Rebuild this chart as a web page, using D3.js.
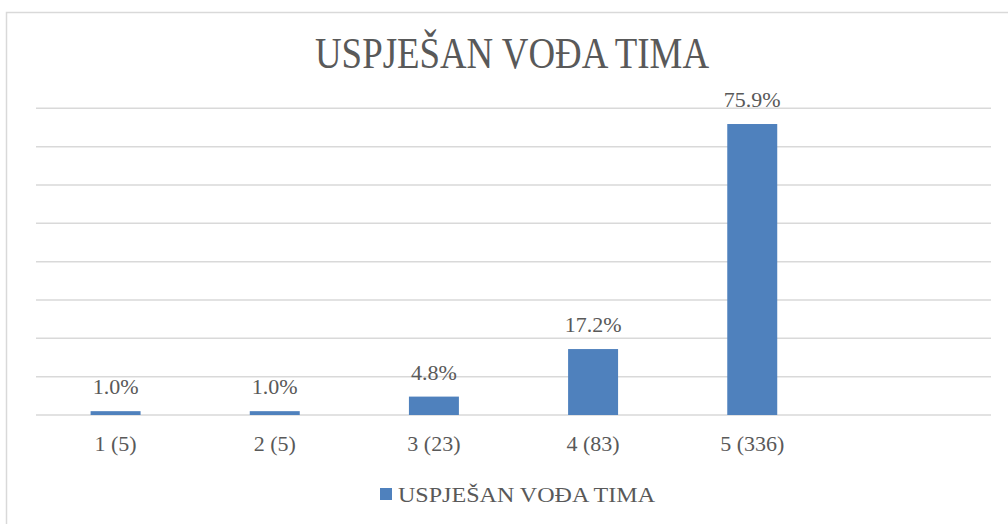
<!DOCTYPE html>
<html>
<head>
<meta charset="utf-8">
<script src="https://cdn.jsdelivr.net/npm/d3@7"></script>
<style>
  body { margin: 0; background: #fff; }
  text { font-family: "Liberation Serif", "Times New Roman", serif; fill: #595959; }
</style>
</head>
<body>
<div id="chart"></div>
<script>
// data
var categories = ['1 (5)', '2 (5)', '3 (23)', '4 (83)', '5 (336)', ''];
var values = [1.0, 1.0, 4.8, 17.2, 75.9];
var yTicks = [0, 10, 20, 30, 40, 50, 60, 70, 80];
var seriesName = 'USPJEŠAN VOĐA TIMA';
var chartTitle = 'USPJEŠAN VOĐA TIMA';

var W = 1008, H = 524;
// plot area (window.top is taken, so own names here)
var plotLeft = 36, plotRight = 991, plotTop = 108.3, plotBottom = 415;

var svg = d3.select('#chart')
  .append('svg')
  .attr('width', W)
  .attr('height', H);

// chart border, runs off the right and bottom of the frame
svg.append('rect')
  .attr('x', 6.5).attr('y', 12.5)
  .attr('width', 1010).attr('height', 530)
  .attr('fill', 'none')
  .attr('stroke', '#d9d9d9')
  .attr('stroke-width', 1.5);

var x = d3.scaleBand()
  .domain(d3.range(categories.length))
  .range([plotLeft, plotRight])
  .paddingInner(0.686)
  .paddingOuter(0.343);

var y = d3.scaleLinear()
  .domain([0, 80])
  .range([plotBottom, plotTop]);

// gridlines
svg.append('g')
  .selectAll('line')
  .data(yTicks)
  .enter().append('line')
  .attr('x1', plotLeft).attr('x2', plotRight)
  .attr('y1', (d) => y(d)).attr('y2', (d) => y(d))
  .attr('stroke', '#d9d9d9')
  .attr('stroke-width', 1.5);

// bars
svg.append('g')
  .selectAll('rect')
  .data(values)
  .enter().append('rect')
  .attr('x', (d, i) => x(i))
  .attr('y', (d) => y(d))
  .attr('width', x.bandwidth())
  .attr('height', (d) => y(0) - y(d))
  .attr('fill', '#4f81bd');

// value labels
svg.append('g')
  .selectAll('text')
  .data(values)
  .enter().append('text')
  .attr('x', (d, i) => x(i) + x.bandwidth() / 2)
  .attr('y', (d) => y(d) - 17)
  .attr('text-anchor', 'middle')
  .attr('font-size', 22)
  .text((d) => d.toFixed(1) + '%');

// category labels
svg.append('g')
  .selectAll('text')
  .data(categories)
  .enter().append('text')
  .attr('x', (d, i) => x(i) + x.bandwidth() / 2)
  .attr('y', 451)
  .attr('text-anchor', 'middle')
  .attr('font-size', 22)
  .text((d) => d);

// title
svg.append('text')
  .attr('x', 315)
  .attr('y', 68.3)
  .attr('font-size', 44)
  .attr('textLength', 394)
  .attr('lengthAdjust', 'spacingAndGlyphs')
  .text(chartTitle);

// legend
var legend = svg.append('g');
legend.append('rect')
  .attr('x', 380).attr('y', 488)
  .attr('width', 12).attr('height', 12)
  .attr('fill', '#4f81bd');
legend.append('text')
  .attr('x', 398)
  .attr('y', 501.5)
  .attr('font-size', 22)
  .attr('textLength', 257)
  .attr('lengthAdjust', 'spacingAndGlyphs')
  .text(seriesName);
</script>
</body>
</html>
